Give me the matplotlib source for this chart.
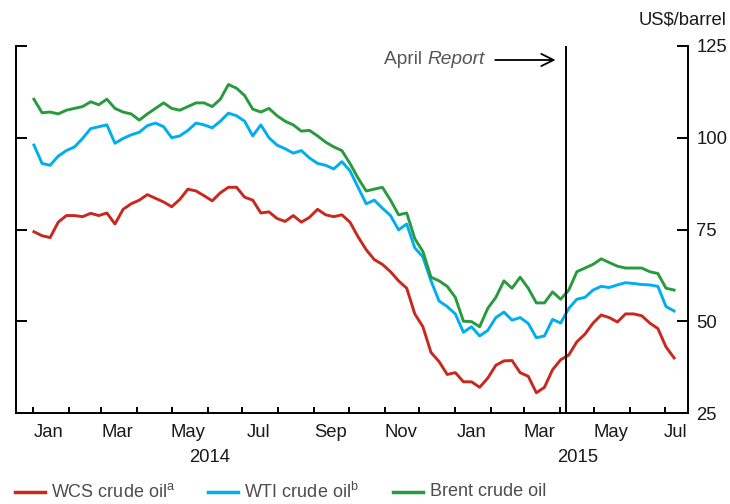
import matplotlib
matplotlib.use("Agg")
import matplotlib.pyplot as plt
import matplotlib.dates as mdates
import matplotlib.ticker as mticker
from matplotlib.lines import Line2D
import datetime as dt

plt.rcParams['font.family'] = ['Liberation Sans', 'DejaVu Sans']
plt.rcParams['mathtext.fontset'] = 'custom'
plt.rcParams['mathtext.rm'] = 'Liberation Sans'

# ---- data (weekly) ----
start_date = "2014-01-02"
n_weeks = 80

brent = [110.5, 106.8, 107.0, 106.5, 107.5, 108.0, 108.5, 109.8, 109.0, 110.5,
         108.0, 107.0, 106.5, 104.8, 106.5, 108.0, 109.5, 108.0, 107.5, 108.5,
         109.5, 109.5, 108.5, 110.5, 114.5, 113.5, 111.5, 107.8, 107.0, 108.0,
         106.0, 104.5, 103.5, 101.8, 102.0, 100.5, 98.8, 97.5, 96.5, 93.0,
         89.0, 85.5, 86.0, 86.5, 83.0, 79.0, 79.5, 72.5, 69.0, 62.0,
         61.0, 59.5, 56.5, 50.0, 49.9, 48.5, 53.5, 56.5, 61.0, 59.0,
         62.0, 59.0, 55.0, 55.0, 58.0, 56.0, 58.5, 63.5, 64.5, 65.5,
         67.0, 66.0, 65.0, 64.5, 64.5, 64.5, 63.5, 63.0, 59.0, 58.5]

wti = [98.0, 93.0, 92.5, 95.0, 96.5, 97.5, 99.8, 102.5, 103.0, 103.5,
       98.5, 99.8, 100.8, 101.5, 103.3, 104.0, 103.0, 100.0, 100.5, 102.0,
       104.0, 103.5, 102.7, 104.5, 106.7, 106.0, 104.5, 100.5, 103.5, 100.0,
       98.0, 97.0, 95.8, 96.5, 94.5, 93.0, 92.5, 91.5, 93.5, 91.0,
       86.5, 82.0, 83.0, 80.8, 78.8, 74.9, 76.5, 70.0, 67.5, 61.0,
       55.5, 54.0, 52.0, 47.0, 48.5, 46.0, 47.5, 51.0, 52.5, 50.3,
       51.0, 49.4, 45.5, 46.0, 50.5, 49.5, 53.5, 56.0, 56.5, 58.5,
       59.5, 59.2, 59.9, 60.5, 60.3, 60.0, 59.9, 59.5, 54.0, 52.8]

wcs = [74.4, 73.3, 72.8, 77.0, 78.8, 78.8, 78.5, 79.4, 78.8, 79.5,
       76.5, 80.5, 82.0, 83.0, 84.5, 83.5, 82.5, 81.2, 83.2, 86.0,
       85.5, 84.2, 82.8, 85.0, 86.5, 86.5, 83.8, 83.0, 79.5, 79.8,
       78.0, 77.2, 78.8, 77.0, 78.3, 80.5, 79.0, 78.5, 79.0, 77.0,
       73.0, 69.5, 66.8, 65.5, 63.5, 61.0, 59.0, 52.0, 48.5, 41.5,
       39.0, 35.5, 36.0, 33.5, 33.5, 32.0, 34.5, 38.0, 39.2, 39.3,
       36.0, 35.0, 30.5, 32.0, 36.8, 39.5, 40.8, 44.4, 46.5, 49.5,
       51.7, 51.0, 49.8, 52.0, 52.0, 51.5, 49.5, 48.0, 43.0, 40.0]

series_labels = ["WCS crude oil$^{\\mathrm{a}}$", "WTI crude oil$^{\\mathrm{b}}$", "Brent crude oil"]
series_colors = ["#c8281e", "#00aeef", "#2a9a3e"]
y_ticks = [25, 50, 75, 100, 125]
month_labels = ["Jan", "Mar", "May", "Jul", "Sep", "Nov", "Jan", "Mar", "May", "Jul"]
month_label_dates = ["2014-01-15", "2014-03-15", "2014-05-15", "2014-07-15", "2014-09-15",
                     "2014-11-15", "2015-01-15", "2015-03-15", "2015-05-15", "2015-07-10"]
year_labels = ["2014", "2015"]
year_label_dates = ["2014-06-03", "2015-04-17"]
report_date = "2015-04-07"

def d(s):
    return dt.datetime.strptime(s, "%Y-%m-%d")

dates = [d(start_date) + dt.timedelta(days=7 * i) for i in range(n_weeks)]

FS = 13.3
fig = plt.figure(figsize=(7.30, 5.04), dpi=100)
ax = fig.add_axes([16/730, 1 - 413/504, (688 - 16)/730, (413 - 46)/504])

for vals, col in zip([wcs, wti, brent], series_colors):
    ax.plot(dates, vals, color=col, lw=2.1, solid_joinstyle='round', zorder=3)

ax.axvline(d(report_date), color='black', lw=1.4, zorder=4)

ax.set_xlim(dt.datetime(2013, 12, 17, 12), dt.datetime(2015, 7, 21))
ax.set_ylim(25, 125)

for s in ['left', 'right', 'bottom']:
    ax.spines[s].set_linewidth(1.4)
    ax.spines[s].set_color('black')
ax.spines['top'].set_visible(False)

ax.set_yticks(y_ticks)
ax.tick_params(axis='y', which='major', left=True, right=True, labelleft=False,
               labelright=True, direction='in', length=8, width=1.4, pad=6.0,
               labelsize=FS, labelcolor='#1a1a1a')

ax.xaxis.set_minor_locator(mdates.MonthLocator(bymonthday=1))
ax.xaxis.set_major_locator(mticker.FixedLocator([mdates.date2num(d(s)) for s in month_label_dates]))
ax.xaxis.set_major_formatter(mticker.FixedFormatter(month_labels))
ax.tick_params(axis='x', which='major', length=0, pad=8, labelsize=FS, labelcolor='#1a1a1a')
ax.tick_params(axis='x', which='minor', direction='in', length=4.5, width=1.4)

trans = matplotlib.transforms.blended_transform_factory(ax.transData, ax.transAxes)
for lab, ds in zip(year_labels, year_label_dates):
    ax.text(d(ds), -0.122, lab, transform=trans, ha='center', va='center',
            fontsize=FS, color='#1a1a1a')

fig.text(727/730, 1 - 20/504, "US$/barrel", ha='right', va='center', fontsize=FS, color='#1a1a1a')

t_rep = ax.text(0.698, 0.9619, "Report", transform=ax.transAxes, ha='right', va='center',
                fontsize=13.8, style='italic', color='#555555')
ax.annotate("April ", xy=(0, 0), xycoords=t_rep, ha='right', va='bottom',
            fontsize=13.8, color='#555555')
ax.annotate("", xy=(0.807, 0.9619), xytext=(0.709, 0.9619), xycoords='axes fraction',
            arrowprops=dict(arrowstyle='->', lw=1.3, color='black', mutation_scale=22))

leg_y = 1 - 492/504
items = [(15, 45, 51), (208, 238, 244), (393, 423, 430)]
for (x0, x1, xt), lab, col in zip(items, series_labels, series_colors):
    fig.add_artist(Line2D([x0/730, x1/730], [leg_y, leg_y], color=col, lw=2.5,
                          transform=fig.transFigure))
    fig.text(xt/730, leg_y, lab, ha='left', va='center', fontsize=13, color='#4d4d4d')

fig.savefig("out.png", dpi=100)
